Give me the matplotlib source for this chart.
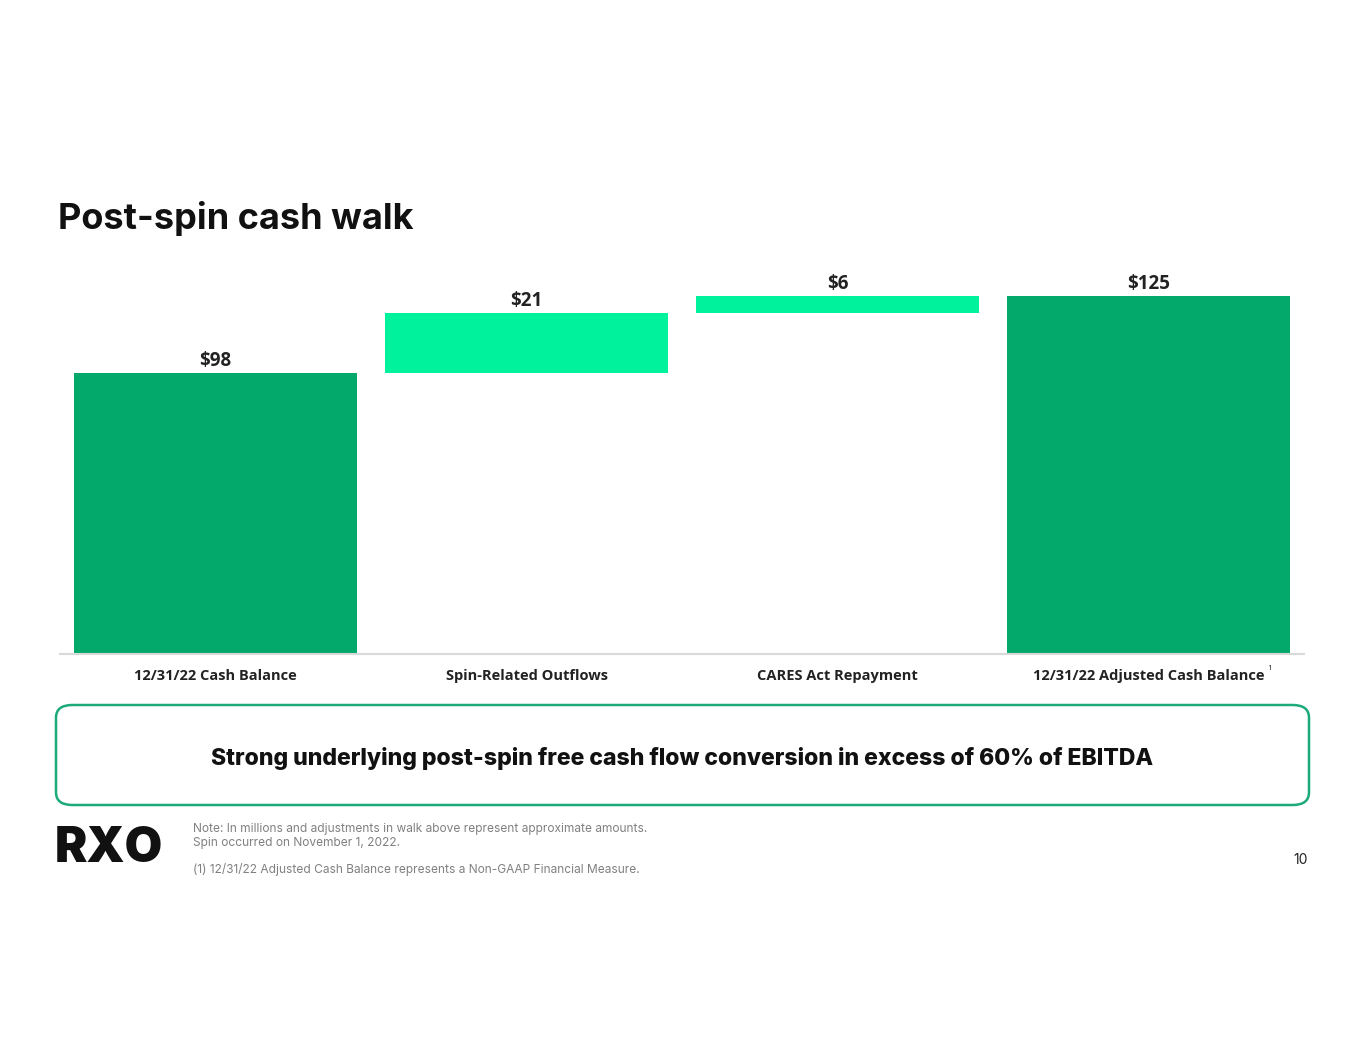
import matplotlib.pyplot as plt
from matplotlib.patches import FancyBboxPatch

# data (millions of dollars)
categories = ["12/31/22 Cash Balance", "Spin-Related Outflows",
              "CARES Act Repayment", "12/31/22 Adjusted Cash Balance"]
amounts = [98, 21, 6, 125]
is_total = [True, False, False, True]
value_labels = ["$98", "$21", "$6", "$125"]

dark_green = "#02A96B"
light_green = "#00F29C"

fig = plt.figure(figsize=(13.65, 10.55), dpi=100)
W, H = 1365, 1055

# axes placed in pixel coords: left 60, right 1304, baseline 654, top 260
ax = fig.add_axes([60 / W, 1 - 654 / H, (1304 - 60) / W, (654 - 260) / H])

# waterfall bottoms
bottoms = []
running = 0
for amt, tot in zip(amounts, is_total):
    if tot:
        bottoms.append(0)
        running = amt
    else:
        bottoms.append(running)
        running += amt

colors = [dark_green if t else light_green for t in is_total]
xs = list(range(len(categories)))
bars = ax.bar(xs, amounts, bottom=bottoms, width=0.907, color=colors, zorder=2)

for b, lab in zip(bars, value_labels):
    ax.annotate(lab, (b.get_x() + b.get_width() / 2, b.get_y() + b.get_height()),
                xytext=(0, 1.5), textcoords="offset points", ha="center", va="bottom",
                fontsize=13.5, fontweight="bold", family="Open Sans", color="#222222")

ax.set_xlim(-0.5, 3.5)
ax.set_ylim(0, (654 - 260) / 2.864)
ax.set_xticks(xs)
ax.set_xticklabels(categories, fontsize=10.5, fontweight="bold", family="Open Sans",
                   color="#222222")
ax.tick_params(axis="x", length=0, pad=11)
ax.set_yticks([])
for s in ["top", "right", "left"]:
    ax.spines[s].set_visible(False)
ax.spines["bottom"].set_color("#d9d9d9")
ax.spines["bottom"].set_linewidth(1.5)
ax.set_facecolor("none")

# superscript marker after last category label
fig.text(1267 / W, 1 - 669 / H, "1", fontsize=6, family="Open Sans", color="#222222",
         ha="left", va="center")

# title
fig.text(58 / W, 1 - 219 / H, "Post-spin cash walk", fontsize=26, fontweight="bold",
         family="Inter", color="#111111", ha="left", va="center")

# callout box
box = FancyBboxPatch((56 / W, 1 - 805 / H), (1309 - 56) / W, (805 - 705) / H,
                     boxstyle="round,pad=0,rounding_size=0.012",
                     transform=fig.transFigure, facecolor="white",
                     edgecolor="#1BAA78", linewidth=1.8)
fig.patches.append(box)
fig.text(682 / W, 1 - 758 / H,
         "Strong underlying post-spin free cash flow conversion in excess of 60% of EBITDA",
         fontsize=16.6, fontweight="heavy", family="Inter", color="#111111",
         ha="center", va="center")

# footer
fig.text(55 / W, 1 - 849 / H, "RXO", fontsize=35, fontweight="black", family="Inter",
         color="#111111", ha="left", va="center")
fig.text(193 / W, 1 - 829 / H,
         "Note: In millions and adjustments in walk above represent approximate amounts.",
         fontsize=8.6, family="Inter", color="#808080", ha="left", va="center")
fig.text(193 / W, 1 - 843 / H, "Spin occurred on November 1, 2022.",
         fontsize=8.6, family="Inter", color="#808080", ha="left", va="center")
fig.text(193 / W, 1 - 870 / H,
         "(1) 12/31/22 Adjusted Cash Balance represents a Non-GAAP Financial Measure.",
         fontsize=8.6, family="Inter", color="#808080", ha="left", va="center")
fig.text(1308 / W, 1 - 860 / H, "10", fontsize=10, family="Inter", color="#222222",
         ha="right", va="center")

fig.savefig("out.png", dpi=100, facecolor="white")
